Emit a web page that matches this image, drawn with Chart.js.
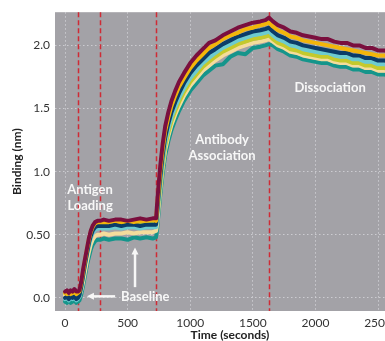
<!DOCTYPE html>
<html>
<head>
<meta charset="utf-8">
<script src="https://cdn.jsdelivr.net/npm/chart.js@4.4.1/dist/chart.umd.min.js"></script>
<style>
  html, body { margin: 0; padding: 0; background: #ffffff; overflow: hidden; }
  #wrap { position: relative; width: 405px; height: 341px; }
</style>
</head>
<body>
<div id="wrap"><canvas id="c"></canvas></div>
<script>
// ---- data ----
const times = [0, 15, 30, 45, 60, 75, 90, 104,
  115, 130, 145, 160, 175, 190, 205, 220, 240, 260, 280,
  310, 350, 400, 450, 500, 550, 600, 650, 700, 727,
  735, 745, 760, 780, 800, 825, 850, 880, 910, 950, 1000, 1050, 1100, 1150, 1200, 1260, 1320, 1380, 1440, 1500, 1560, 1600, 1629,
  1660, 1700, 1750, 1800, 1850, 1900, 1950, 2000, 2050, 2100, 2150, 2200, 2250, 2300, 2350, 2400, 2450, 2500, 2550, 2600];

const maroon = [0.05, 0.06, 0.04, 0.06, 0.05, 0.07, 0.05, 0.05,
  0.06, 0.13, 0.23, 0.31, 0.39, 0.47, 0.53, 0.57, 0.60, 0.61, 0.61,
  0.62, 0.61, 0.62, 0.62, 0.61, 0.62, 0.63, 0.62, 0.63, 0.63,
  0.74, 0.87, 1.04, 1.22, 1.36, 1.47, 1.56, 1.64, 1.71, 1.78, 1.86, 1.92, 1.97, 2.02, 2.04, 2.08, 2.11, 2.14, 2.16, 2.18, 2.19, 2.20, 2.22,
  2.19, 2.16, 2.14, 2.11, 2.10, 2.08, 2.07, 2.06, 2.05, 2.05, 2.03, 2.02, 2.02, 2.00, 2.00, 1.98, 1.98, 1.96, 1.96, 1.95];

const gold = [0.04, 0.03, 0.05, 0.03, 0.04, 0.05, 0.03, 0.04,
  0.05, 0.12, 0.21, 0.30, 0.38, 0.46, 0.52, 0.56, 0.59, 0.60, 0.60,
  0.60, 0.60, 0.61, 0.60, 0.61, 0.60, 0.61, 0.61, 0.62, 0.61,
  0.71, 0.83, 1.00, 1.18, 1.32, 1.43, 1.52, 1.60, 1.67, 1.74, 1.82, 1.88, 1.93, 1.98, 2.01, 2.05, 2.08, 2.10, 2.13, 2.14, 2.16, 2.17, 2.18,
  2.15, 2.12, 2.10, 2.07, 2.06, 2.04, 2.03, 2.02, 2.01, 2.00, 1.99, 1.98, 1.97, 1.96, 1.95, 1.94, 1.93, 1.92, 1.92, 1.91];

const navy = [0.00, 0.01, -0.01, 0.01, 0.00, 0.01, -0.01, 0.00,
  0.02, 0.09, 0.18, 0.27, 0.35, 0.43, 0.49, 0.53, 0.56, 0.57, 0.57,
  0.57, 0.57, 0.58, 0.57, 0.58, 0.58, 0.57, 0.58, 0.58, 0.58,
  0.67, 0.79, 0.95, 1.13, 1.27, 1.38, 1.47, 1.55, 1.62, 1.70, 1.78, 1.84, 1.89, 1.94, 1.97, 2.01, 2.04, 2.07, 2.09, 2.11, 2.12, 2.13, 2.14,
  2.11, 2.08, 2.06, 2.03, 2.02, 2.00, 1.99, 1.98, 1.97, 1.96, 1.95, 1.94, 1.94, 1.92, 1.92, 1.90, 1.90, 1.88, 1.88, 1.87];

const cyan = [-0.01, 0.00, -0.02, 0.00, -0.01, 0.00, -0.02, -0.01,
  0.01, 0.08, 0.17, 0.26, 0.34, 0.41, 0.47, 0.51, 0.54, 0.55, 0.55,
  0.55, 0.55, 0.56, 0.55, 0.56, 0.56, 0.55, 0.56, 0.56, 0.56,
  0.64, 0.75, 0.91, 1.09, 1.23, 1.34, 1.43, 1.51, 1.58, 1.66, 1.74, 1.80, 1.86, 1.90, 1.94, 1.98, 2.01, 2.04, 2.06, 2.08, 2.09, 2.10, 2.11,
  2.08, 2.05, 2.03, 2.00, 1.99, 1.97, 1.96, 1.95, 1.94, 1.94, 1.92, 1.91, 1.91, 1.89, 1.89, 1.87, 1.87, 1.85, 1.85, 1.84];

const lime = [0.04, 0.03, 0.05, 0.04, 0.03, 0.05, 0.04, 0.04,
  0.04, 0.10, 0.19, 0.28, 0.36, 0.44, 0.50, 0.54, 0.57, 0.58, 0.59,
  0.59, 0.58, 0.59, 0.59, 0.58, 0.59, 0.60, 0.59, 0.59, 0.60,
  0.66, 0.74, 0.88, 1.06, 1.20, 1.31, 1.40, 1.48, 1.55, 1.63, 1.71, 1.77, 1.83, 1.87, 1.91, 1.95, 1.98, 2.01, 2.03, 2.05, 2.06, 2.07, 2.08,
  2.05, 2.02, 2.00, 1.97, 1.96, 1.94, 1.93, 1.92, 1.91, 1.91, 1.89, 1.88, 1.88, 1.86, 1.86, 1.84, 1.84, 1.82, 1.82, 1.81];

const cream = [0.02, 0.01, 0.02, 0.00, 0.02, 0.01, 0.02, 0.01,
  0.01, 0.06, 0.13, 0.21, 0.29, 0.36, 0.42, 0.46, 0.49, 0.50, 0.50,
  0.51, 0.50, 0.51, 0.51, 0.52, 0.51, 0.52, 0.52, 0.52, 0.53,
  0.58, 0.69, 0.85, 1.03, 1.17, 1.28, 1.37, 1.45, 1.52, 1.60, 1.68, 1.74, 1.80, 1.84, 1.88, 1.92, 1.95, 1.98, 2.00, 2.02, 2.03, 2.04, 2.05,
  2.03, 2.00, 1.98, 1.95, 1.94, 1.92, 1.91, 1.90, 1.89, 1.89, 1.87, 1.86, 1.86, 1.84, 1.84, 1.82, 1.82, 1.80, 1.80, 1.79];

const teal = [-0.03, -0.04, -0.02, -0.04, -0.03, -0.02, -0.04, -0.03,
  -0.02, 0.03, 0.10, 0.18, 0.26, 0.32, 0.38, 0.42, 0.45, 0.46, 0.46,
  0.47, 0.46, 0.47, 0.47, 0.46, 0.48, 0.47, 0.48, 0.47, 0.48,
  0.54, 0.65, 0.81, 0.99, 1.13, 1.24, 1.33, 1.41, 1.48, 1.56, 1.64, 1.70, 1.76, 1.80, 1.84, 1.85, 1.91, 1.94, 1.93, 1.98, 1.99, 2.00, 2.01,
  2.00, 1.97, 1.95, 1.92, 1.91, 1.89, 1.88, 1.87, 1.86, 1.86, 1.84, 1.83, 1.83, 1.81, 1.81, 1.79, 1.79, 1.77, 1.77, 1.76];

const seriesNames = ['S1', 'S2', 'S3', 'S4', 'S5', 'S6', 'S7'];
const xTickValues = [0, 500, 1000, 1500, 2000, 2500];
const xTickLabels = ['0', '500', '1000', '1500', '2000', '2500'];
const yTickValues = [0, 0.5, 1.0, 1.5, 2.0];
const yTickLabels = ['0.0', '0.50', '1.0', '1.5', '2.0'];
const phaseBoundaries = [104, 280, 727, 1629];

// ---- styling / annotation placement ----
const seriesColors = ['#7a0f3e', '#f3b50a', '#0b3c68', '#6dcbcf', '#c4c92c', '#f4dc9c', '#15958b'];
const textNotes = [
  { lines: ['Antigen', 'Loading'], t: 200, v: 0.857, align: 'center' },
  { lines: ['Antibody', 'Association'], t: 1254, v: 1.254, align: 'center' },
  { lines: ['Dissociation'], t: 2117, v: 1.662, align: 'center' },
  { lines: ['Baseline'], t: 447, v: 0.012, align: 'left' }
];
const arrows = [
  { from: [400, 0.012], to: [175, 0.012] },
  { from: [559, 0.085], to: [559, 0.40] }
];

const pts = (arr) => arr.map((v, i) => ({ x: times[i], y: v }));
const allSeries = [maroon, gold, navy, cyan, lime, cream, teal];

const deco = {
  id: 'deco',
  beforeDraw(chart) {
    const { ctx, chartArea: a } = chart;
    ctx.save();
    ctx.fillStyle = '#a3a2a7';
    ctx.fillRect(a.left, a.top, a.right - a.left, a.bottom - a.top);
    ctx.restore();
  },
  beforeDatasetsDraw(chart) {
    const { ctx, chartArea: a, scales } = chart;
    ctx.save();
    ctx.strokeStyle = '#cf2b35';
    ctx.lineWidth = 1.5;
    ctx.setLineDash([5, 3]);
    phaseBoundaries.forEach(t => {
      const x = Math.round(scales.x.getPixelForValue(t)) + 0.5;
      ctx.beginPath();
      ctx.moveTo(x, a.top);
      ctx.lineTo(x, a.bottom);
      ctx.stroke();
    });
    ctx.restore();
  },
  afterDatasetsDraw(chart) {
    const { ctx, scales } = chart;
    ctx.save();
    ctx.fillStyle = '#f7f7f7';
    ctx.strokeStyle = '#f7f7f7';
    ctx.font = 'bold 13px Lato, "DejaVu Sans", sans-serif';
    ctx.textBaseline = 'middle';
    textNotes.forEach(n => {
      const x = scales.x.getPixelForValue(n.t);
      const y = scales.y.getPixelForValue(n.v);
      ctx.textAlign = n.align;
      n.lines.forEach((s, i) => ctx.fillText(s, x, y + i * 16));
    });
    arrows.forEach(ar => {
      const x1 = scales.x.getPixelForValue(ar.from[0]);
      const y1 = scales.y.getPixelForValue(ar.from[1]);
      const x2 = scales.x.getPixelForValue(ar.to[0]);
      const y2 = scales.y.getPixelForValue(ar.to[1]);
      const ang = Math.atan2(y2 - y1, x2 - x1);
      const head = 7;
      ctx.lineWidth = 2.5;
      ctx.beginPath();
      ctx.moveTo(x1, y1);
      ctx.lineTo(x2 - Math.cos(ang) * head * 0.8, y2 - Math.sin(ang) * head * 0.8);
      ctx.stroke();
      ctx.beginPath();
      ctx.moveTo(x2, y2);
      ctx.lineTo(x2 - Math.cos(ang) * head - Math.sin(ang) * 3.5, y2 - Math.sin(ang) * head + Math.cos(ang) * 3.5);
      ctx.lineTo(x2 - Math.cos(ang) * head + Math.sin(ang) * 3.5, y2 - Math.sin(ang) * head - Math.cos(ang) * 3.5);
      ctx.closePath();
      ctx.fill();
    });
    ctx.restore();
  }
};

new Chart(document.getElementById('c'), {
  type: 'line',
  data: {
    datasets: allSeries.map((arr, i) => ({
      label: seriesNames[i],
      data: pts(arr),
      borderColor: seriesColors[i],
      backgroundColor: seriesColors[i],
      borderWidth: 4,
      pointRadius: 0,
      tension: 0,
      borderJoinStyle: 'round',
      borderCapStyle: 'round'
    }))
  },
  options: {
    responsive: true,
    maintainAspectRatio: false,
    animation: false,
    layout: { padding: { left: 0, right: 0, top: 8, bottom: 0 } },
    plugins: { legend: { display: false }, tooltip: { enabled: false } },
    scales: {
      x: {
        type: 'linear',
        min: -80,
        max: 2715,
        afterBuildTicks: s => { s.ticks = xTickValues.map(v => ({ value: v })); },
        afterFit: s => { s.height = 30; },
        ticks: {
          callback: (v) => xTickLabels[xTickValues.indexOf(v)],
          color: '#333333',
          font: { family: 'Lato', size: 12 },
          padding: 5,
          maxRotation: 0
        },
        grid: { color: 'rgba(212,212,216,0.85)', lineWidth: 1, drawTicks: false },
        border: { display: false, dash: [1.5, 2.5] },
        title: {
          display: true, text: 'Time (seconds)', color: '#222222',
          font: { family: 'Lato', size: 12, weight: 'bold' },
          padding: { top: 0, bottom: -1 }
        }
      },
      y: {
        type: 'linear',
        min: -0.104,
        max: 2.263,
        afterBuildTicks: s => { s.ticks = yTickValues.map(v => ({ value: v })); },
        afterFit: s => { s.width = 55; },
        ticks: {
          callback: (v) => yTickLabels[yTickValues.indexOf(v)],
          color: '#333333',
          font: { family: 'Lato', size: 12 },
          padding: 5
        },
        grid: { color: 'rgba(212,212,216,0.85)', lineWidth: 1, drawTicks: false },
        border: { display: false, dash: [1.5, 2.5] },
        title: {
          display: true, text: 'Binding (nm)', color: '#222222',
          font: { family: 'Lato', size: 12, weight: 'bold' },
          padding: { top: 10, bottom: 0 }
        }
      }
    }
  },
  plugins: [deco]
});
</script>
</body>
</html>
